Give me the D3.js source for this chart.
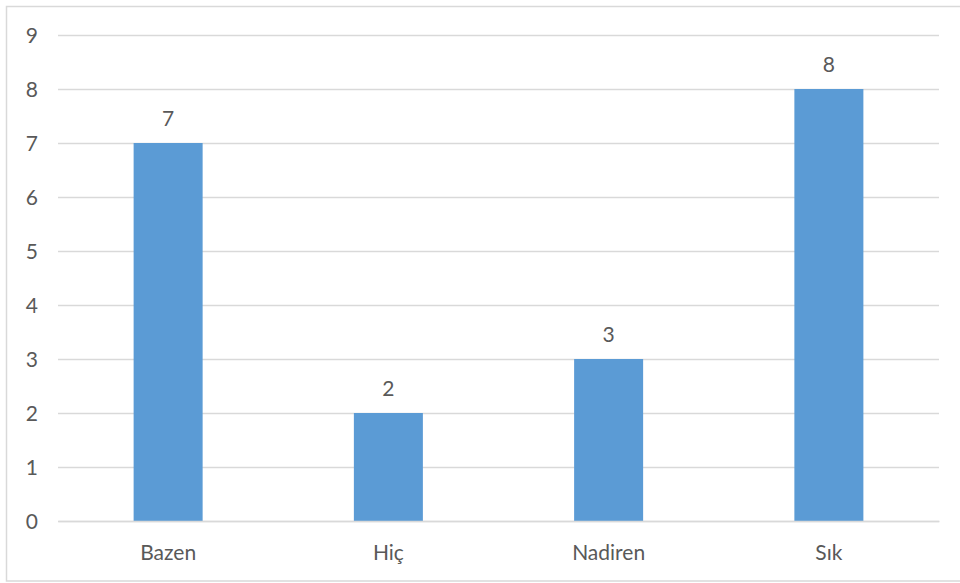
<!DOCTYPE html>
<html>
<head>
<meta charset="utf-8">
<script src="https://cdn.jsdelivr.net/npm/d3@7"></script>
<style>
  html, body { margin: 0; padding: 0; background: #fff; }
  svg { display: block; }
</style>
</head>
<body>
<svg id="chart" width="960" height="583"></svg>
<script>
const categories = ["Bazen", "Hiç", "Nadiren", "Sık"];
const values = [7, 2, 3, 8];
const yTicks = [0, 1, 2, 3, 4, 5, 6, 7, 8, 9];

const svg = d3.select("#chart");
const font = "Lato, 'Open Sans', sans-serif";
const textColor = "#595959";

// outer border
svg.append("rect")
  .attr("x", 6.5).attr("y", 6.5)
  .attr("width", 970).attr("height", 574.5)
  .attr("fill", "none").attr("stroke", "#D9D9D9").attr("stroke-width", 1.5);

const x = d3.scaleBand().domain(categories).range([58, 939])
  .paddingInner(0.6867).paddingOuter(0.34335);
const y = d3.scaleLinear().domain([0, 9]).range([521, 35]);

// gridlines
const yAxis = d3.axisLeft(y).tickValues(yTicks).tickSize(-(939 - 58)).tickPadding(20);
const gy = svg.append("g").attr("transform", "translate(58,0)").call(yAxis);
gy.select(".domain").remove();
gy.selectAll(".tick line").attr("stroke", "#D9D9D9").attr("stroke-width", 1.5);
gy.selectAll(".tick text")
  .attr("fill", textColor).attr("font-family", font).attr("font-size", "21px")
  .attr("dy", "0.36em");

// bars
svg.append("g").selectAll("rect").data(values).join("rect")
  .attr("x", (d, i) => x(categories[i]))
  .attr("y", d => y(d))
  .attr("width", x.bandwidth())
  .attr("height", d => y(0) - y(d))
  .attr("fill", "#5B9BD5");

// value labels
svg.append("g").selectAll("text").data(values).join("text")
  .attr("x", (d, i) => x(categories[i]) + x.bandwidth() / 2)
  .attr("y", d => y(d) - 17)
  .attr("text-anchor", "middle")
  .attr("fill", textColor).attr("font-family", font).attr("font-size", "21px")
  .text(d => d);

// x axis labels
const xAxis = d3.axisBottom(x).tickSize(0).tickPadding(24);
const gx = svg.append("g").attr("transform", "translate(0,521)").call(xAxis);
gx.select(".domain").attr("stroke", "#D9D9D9").attr("stroke-width", 1.5);
gx.selectAll(".tick text")
  .attr("fill", textColor).attr("font-family", font).attr("font-size", "21px");
</script>
</body>
</html>
